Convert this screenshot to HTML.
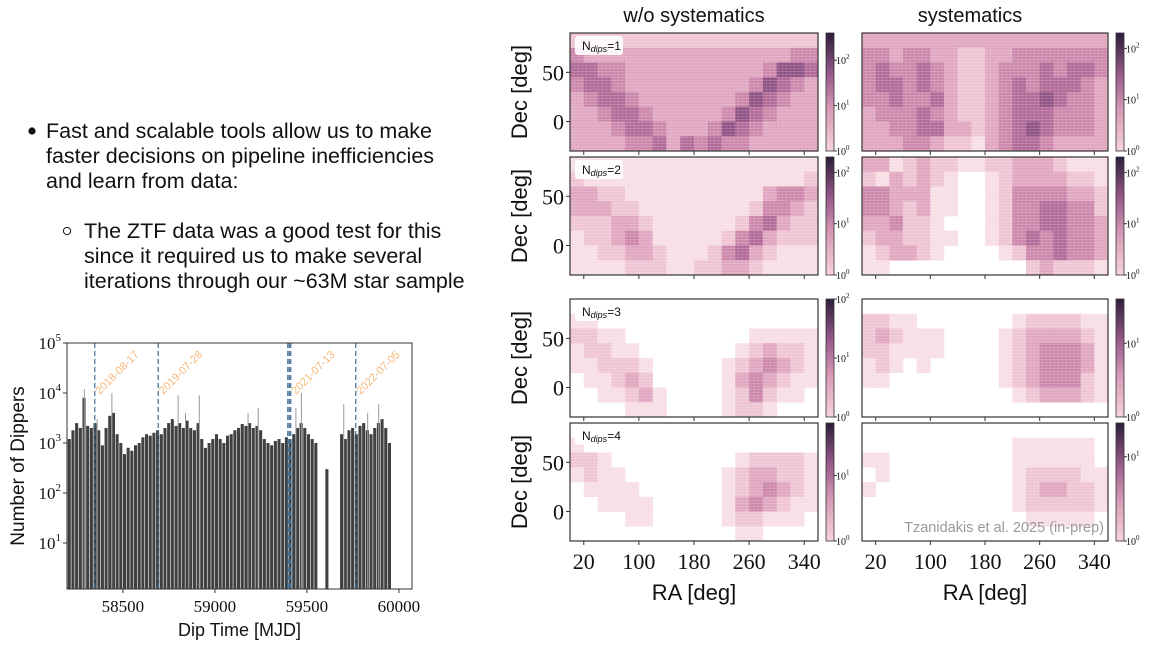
<!DOCTYPE html>
<html><head><meta charset="utf-8">
<style>
html,body{margin:0;padding:0;background:#fff;}
svg{display:block;}
.sl{font-family:"Liberation Sans",sans-serif;font-size:21.5px;fill:#111;}
.ser{font-family:"Liberation Serif",serif;fill:#111;}
.sans{font-family:"Liberation Sans",sans-serif;fill:#111;}
</style></head>
<body>
<svg id="root" width="1154" height="650" viewBox="0 0 1154 650" xmlns="http://www.w3.org/2000/svg">
  <g>
    <circle cx="32" cy="131" r="3.6" fill="#111"/>
    <text class="sl" x="46" y="138">Fast and scalable tools allow us to make</text>
    <text class="sl" x="46" y="163">faster decisions on pipeline inefficiencies</text>
    <text class="sl" x="46" y="188">and learn from data:</text>
    <circle cx="67" cy="231" r="3.6" fill="none" stroke="#111" stroke-width="1"/>
    <text class="sl" x="84" y="238">The ZTF data was a good test for this</text>
    <text class="sl" x="84" y="263">since it required us to make several</text>
    <text class="sl" x="84" y="288">iterations through our ~63M star sample</text>
  </g>
  <g id="bar"></g>
  <g id="maps"></g>
</svg>
<script>
// ---------- histogram data ----------
const binStart = 58200;
const binWidth = 20;
const dipCounts = [1200,1800,2500,2000,8000,2200,2000,2500,1800,900,2000,3500,4000,1500,1000,600,800,700,900,1000,
1300,1500,1400,1600,1800,1500,2000,2500,3000,2200,2500,2000,2800,2000,1800,2500,1200,800,1000,1200,
1500,1200,1000,1400,1500,1800,2000,2400,2200,2500,2000,2200,1800,1200,1000,900,1100,1200,1000,1300,
1200,1500,2000,2500,2000,1500,1200,1000,0,0,300,0,0,0,1500,1200,1800,2000,1500,2200,
2500,1800,1500,2000,2500,3000,2000,1000];
const spikeMJD = [58290,58360,58440,58800,58840,58915,59180,59235,59440,59470,59700,59830,59890];
const spikeVal = [12000,3000,10000,9000,4000,9000,4000,5000,5000,10000,6000,4000,6000];
const eventMJD = [58347,58692,59396,59404,59412,59765];
const eventLabels = ["2018-08-17","2019-07-28","2021-07-13","2022-07-05"];
const eventLabelMJD = [58347,58692,59412,59765];
const xTicks = [58500,59000,59500,60000];
const yTickExp = [1,2,3,4,5];

// ---------- heatmap data (intensity 0-8 per cell; rows Dec 90→-30, cols RA 0→360) ----------
const mapL1 = ["222222222222222222","433333333333333344","554433333333334665","455433333333346543","345543333333465433","334554333334654333","333455433346543333","333344535454433333"];
const mapL2 = ["111111111111111111","211111111111111112","332211111111113443","333221111111124432","222332111111245322","122343111112453222","112233211124532111","111122211223321111"];
const mapL3 = ["000000000000000000","110000000000000000","221100000000011111","122110000000123221","112221000001234321","011232000001343211","001123100001242110","000011100001221000"];
const mapL4 = ["000000000000000000","100000000000000000","221000000000122221","121100000001233221","011110000001234321","001111000001343211","000011000001221110","000000000000110000"];
const mapR1 = ["333333333333333333","443443322334444444","454454322344454554","455454322345455543","445445322345565443","344454322345554443","334455332345654443","333443221345543333"];
const mapR2 = ["331232211223332111","213232100123333221","443331100124444332","443231100124455442","334221000124455443","233221100124545443","123321000012445443","110000000000232221"];
const mapR3 = ["000000000000000000","221100000001222211","232111000012333321","221111000012344431","121010000012344431","110000000012344421","000000000001233321","000000000000000000"];
const mapR4 = ["000000000000000000","000000000001111110","110000000001111110","010000000001222211","100000000001233221","000000000001222221","000000000000111110","000000000000000000"];
const raTicks = [20,100,180,260,340];
const decTicks = [0,50];
const ndipLabels = ["1","2","3","4"];

const NS = "http://www.w3.org/2000/svg";
function mk(tag, attrs, parent){const e=document.createElementNS(NS,tag);for(const k in attrs)e.setAttribute(k,attrs[k]);parent.appendChild(e);return e;}

// ---------- histogram ----------
(function(){
  const g = document.getElementById('bar');
  const L=67,R=412,T=343,B=589;
  const x0=58196, x1=60071;
  const xs = m => L + (m-x0)/(x1-x0)*(R-L);
  const ys = v => 343 + (5-Math.log10(v))*50;
  mk('rect',{x:L,y:T,width:R-L,height:B-T,fill:'#fff'},g);
  const bw = xs(binStart+binWidth)-xs(binStart);
  dipCounts.forEach((v,i)=>{
    if(v<=0) return;
    const xa = xs(binStart+i*binWidth);
    const y = Math.max(T,ys(v));
    const r = mk('rect',{x:xa.toFixed(2),y:y.toFixed(2),width:(bw-0.6).toFixed(2),height:(B-y).toFixed(2),fill:'#3e413f'},g);
    
    
  });
  spikeMJD.forEach((m,i)=>{
    const y = ys(spikeVal[i]);
    const l = mk('line',{x1:xs(m),x2:xs(m),y1:y,y2:B,stroke:'#9a9a9a','stroke-width':1},g);
    
    
  });
  eventMJD.forEach(m=>{
    const l = mk('line',{x1:xs(m),x2:xs(m),y1:T,y2:B,stroke:'#3b6e99','stroke-width':1.2,'stroke-dasharray':'5,3'},g);
    
    
  });
  eventLabelMJD.forEach((m,i)=>{
    const x = xs(m)+5, y = 395;
    const t = mk('text',{x:x,y:y,transform:`rotate(-45 ${x} ${y})`,'font-family':'Liberation Sans, sans-serif','font-size':11,fill:'#f6b87a'},g);
    t.textContent = eventLabels[i];
    
    
  });
  mk('rect',{x:L,y:T,width:R-L,height:B-T,fill:'none',stroke:'#333','stroke-width':1},g);
  xTicks.forEach(v=>{
    const x=xs(v);
    mk('line',{x1:x,x2:x,y1:B,y2:B+4,stroke:'#333'},g);
    const t=mk('text',{x:x,y:B+23,'text-anchor':'middle',class:'ser','font-size':17},g);
    t.textContent=v;
    
    
  });
  yTickExp.forEach(e=>{
    const y=ys(Math.pow(10,e));
    mk('line',{x1:L-4,x2:L,y1:y,y2:y,stroke:'#333'},g);
    const t=mk('text',{x:L-6,y:y+6,'text-anchor':'end',class:'ser','font-size':17},g);
    t.innerHTML='10<tspan dy="-8" font-size="11">'+e+'</tspan>';
    
    
  });
  const xl=mk('text',{x:(L+R)/2,y:636,'text-anchor':'middle',class:'sans','font-size':18},g);
  xl.textContent='Dip Time [MJD]';
  
  
  const yl=mk('text',{x:24,y:(T+B)/2,'text-anchor':'middle',class:'sans','font-size':19,transform:`rotate(-90 24 ${(T+B)/2})`},g);
  yl.textContent='Number of Dippers';
  
  
})();

// ---------- heatmaps ----------
(function(){
  const g = document.getElementById('maps');
  const palette = ['#ffffff','#f7dde4','#efc4d2','#e0a5bf','#cc86ab','#b16a98','#8f5083','#6a3a6a','#482a52'];
  const cols = [{L:570,R:818,cb:826,cbl:838},{L:862,R:1108,cb:1116,cbl:1128}];
  const rows = [{T:33,B:151},{T:157,B:275},{T:299,B:417},{T:423,B:541}];
  const maps = [[mapL1,mapR1],[mapL2,mapR2],[mapL3,mapR3],[mapL4,mapR4]];
  const cbMax = [[2.6,2.3],[2.3,2.3],[2.0,1.6],[1.8,1.4]];
  const defs = mk('defs',{},g);
  const lg = mk('linearGradient',{id:'cbg',x1:0,y1:1,x2:0,y2:0},defs);
  [['0','#f7d3da'],['0.35','#d79ab6'],['0.65','#9a5a8c'],['1','#2c1d3a']].forEach(s=>mk('stop',{offset:s[0],'stop-color':s[1]},lg));
  const tx = mk('pattern',{id:'tex',width:4,height:3,patternUnits:'userSpaceOnUse'},defs);
  mk('rect',{x:0,y:2,width:4,height:1,fill:'#ffffff','fill-opacity':0.18},tx);
  mk('rect',{x:2,y:0,width:1,height:2,fill:'#ffffff','fill-opacity':0.12},tx);

  const ttl=[['w/o systematics',694],['systematics',970]];
  ttl.forEach(t=>{
    const e=mk('text',{x:t[1],y:22,'text-anchor':'middle',class:'sans','font-size':20},g);
    e.textContent=t[0];
    
    
  });

  rows.forEach((rw,ri)=>{
    cols.forEach((c,ci)=>{
      const grid = maps[ri][ci];
      const nr = grid.length, nc = grid[0].length;
      const ras = ra => c.L + ra/360*(c.R-c.L);
      const decs = d => rw.T + (90-d)/120*(rw.B-rw.T);
      const cw = (c.R-c.L)/nc, ch=(rw.B-rw.T)/nr;
      grid.forEach((row,r)=>{
        for(let k=0;k<nc;k++){
          const v = +row[k];
          if(v===0) continue;
          const cell = mk('rect',{x:(c.L+k*cw).toFixed(2),y:(rw.T+r*ch).toFixed(2),width:(cw+0.3).toFixed(2),height:(ch+0.3).toFixed(2),fill:palette[v]},g);
          
          
        }
      });
      mk('rect',{x:c.L,y:rw.T,width:c.R-c.L,height:rw.B-rw.T,fill:'url(#tex)'},g);
      const fr = mk('rect',{x:c.L,y:rw.T,width:c.R-c.L,height:rw.B-rw.T,fill:'none',stroke:'#333','stroke-width':1.2},g);
      
      
      raTicks.forEach(ra=>mk('line',{x1:ras(ra),x2:ras(ra),y1:rw.B,y2:rw.B+4,stroke:'#333'},g));
      if(ci===0){
        decTicks.forEach(d=>{
          const y=decs(d);
          mk('line',{x1:c.L-4,x2:c.L,y1:y,y2:y,stroke:'#333'},g);
          const t=mk('text',{x:c.L-6,y:y+8,'text-anchor':'end',class:'ser','font-size':22},g);
          t.textContent=d;
          
          
        });
        const cy=(rw.T+rw.B)/2;
        const yl=mk('text',{x:527,y:cy,'text-anchor':'middle',class:'sans','font-size':22,transform:`rotate(-90 527 ${cy})`},g);
        yl.textContent='Dec  [deg]';
        
        
        mk('rect',{x:c.L+5,y:rw.T+3,width:48,height:19,rx:3,fill:'#fff','fill-opacity':0.9},g);
        const nt=mk('text',{x:c.L+12,y:rw.T+17,class:'sans','font-size':12},g);
        nt.innerHTML='N<tspan font-style="italic" font-size="9" dy="2">dips</tspan><tspan dy="-2">='+ndipLabels[ri]+'</tspan>';
        
        
      }
      if(ri===3){
        raTicks.forEach(ra=>{
          const t=mk('text',{x:ras(ra),y:569,'text-anchor':'middle',class:'ser','font-size':22},g);
          t.textContent=ra;
          
          
        });
        const xl=mk('text',{x:(c.L+c.R)/2,y:600,'text-anchor':'middle',class:'sans','font-size':22},g);
        xl.textContent='RA [deg]';
        
        
      }
      const cb=mk('rect',{x:c.cb,y:rw.T,width:8,height:rw.B-rw.T,fill:'url(#cbg)',stroke:'#333','stroke-width':0.8},g);
      
      
      const mx=cbMax[ri][ci];
      [0,1,2].forEach(e=>{
        if(e>mx) return;
        const y=rw.B-(e/mx)*(rw.B-rw.T);
        mk('line',{x1:c.cb+8,x2:c.cb+11,y1:y,y2:y,stroke:'#333'},g);
        const t=mk('text',{x:c.cbl-2,y:y+4,class:'ser','font-size':10},g);
        t.innerHTML='10<tspan dy="-5" font-size="7">'+e+'</tspan>';
        
        
      });
    });
  });
  const cr=mk('text',{x:1104,y:532,'text-anchor':'end','font-family':'Liberation Sans, sans-serif','font-size':14.5,fill:'#9a9a9a'},g);
  cr.textContent='Tzanidakis et al. 2025 (in-prep)';
  
  
})();
</script>
</body></html>
